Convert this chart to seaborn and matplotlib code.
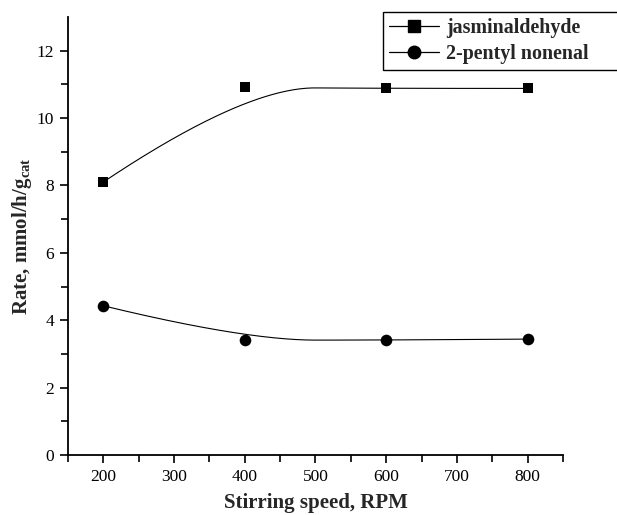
import numpy as np
import pandas as pd
import matplotlib
matplotlib.use("Agg")
import matplotlib.pyplot as plt
from matplotlib.lines import Line2D
import seaborn as sns

speed = [200, 400, 600, 800]
jasminaldehyde = [8.10, 10.91, 10.88, 10.88]
pentyl_nonenal = [4.43, 3.41, 3.41, 3.44]
series_names = ["jasminaldehyde", "2-pentyl nonenal"]
x_ticks = [200, 300, 400, 500, 600, 700, 800]
y_ticks = [0, 2, 4, 6, 8, 10, 12]

sns.set_theme(style="ticks")
plt.rcParams['font.family'] = ['Liberation Serif', 'DejaVu Serif']
plt.rcParams['mathtext.fontset'] = 'custom'
plt.rcParams['mathtext.rm'] = 'Liberation Serif'
plt.rcParams['mathtext.bf'] = 'Liberation Serif:bold'


def bspline2(xs, ys, n=200):
    # clamped quadratic B-spline using the data points as control points
    P = np.column_stack([xs, ys]).astype(float)
    k = 2
    m = len(P)
    inner = np.linspace(0, 1, m - k + 1)
    knots = np.concatenate([[0] * k, inner, [1] * k])

    def basis(i, p, t):
        if p == 0:
            if knots[i] <= t < knots[i + 1] or (t == 1 and knots[i + 1] == 1 and knots[i] < 1):
                return 1.0
            return 0.0
        a = 0.0
        d1 = knots[i + p] - knots[i]
        if d1 > 0:
            a += (t - knots[i]) / d1 * basis(i, p - 1, t)
        d2 = knots[i + p + 1] - knots[i + 1]
        if d2 > 0:
            a += (knots[i + p + 1] - t) / d2 * basis(i + 1, p - 1, t)
        return a

    ts = np.linspace(0, 1, n)
    out = []
    for t in ts:
        w = np.array([basis(i, k, t) for i in range(m)])
        out.append(w @ P)
    out = np.array(out)
    return out[:, 0], out[:, 1]


fig = plt.figure(figsize=(6.17, 5.15), dpi=100)
ax = fig.add_axes([0.110, 0.1165, 0.8025, 0.8505])

markers = ["s", "o"]
for name, vals, mk in zip(series_names, [jasminaldehyde, pentyl_nonenal], markers):
    cx, cy = bspline2(speed, vals)
    curve = pd.DataFrame({"x": cx, "y": cy})
    sns.lineplot(data=curve, x="x", y="y", ax=ax, color="black", lw=0.8,
                 sort=False, estimator=None)
    pts = pd.DataFrame({"x": speed, "y": vals})
    sns.scatterplot(data=pts, x="x", y="y", ax=ax, marker=mk, color="black",
                    s=55 if mk == "s" else 70, edgecolor="black", linewidth=0, zorder=3)

ax.set_xlim(150, 850)
ax.set_ylim(0, 13)
ax.set_xticks(x_ticks)
ax.set_yticks(y_ticks)
ax.set_xticks(np.arange(150, 851, 100), minor=True)
ax.set_yticks(np.arange(1, 13, 2), minor=True)
ax.tick_params(axis="both", which="major", direction="out", length=6, width=1.2,
               labelsize=12.5, color="black", labelcolor="black", pad=4)
ax.tick_params(axis="both", which="minor", direction="out", length=5, width=1.2, color="black")
sns.despine(ax=ax)
for s in ["left", "bottom"]:
    ax.spines[s].set_linewidth(1.3)
    ax.spines[s].set_color("black")

ax.set_xlabel("Stirring speed, RPM", fontsize=15, fontweight="bold", labelpad=6)
ax.set_ylabel(r"Rate, mmol/h/g$_{\mathbf{cat}}$", fontsize=15, fontweight="bold", labelpad=2)

handles = [Line2D([0], [0], color="black", lw=0.9, marker=m, markersize=9 if m == "o" else 8)
           for m in markers]
leg = fig.legend(handles, series_names, loc="upper left",
                 bbox_to_anchor=(383 / 617, 1 - 70 / 515, 240 / 617, 58 / 515),
                 mode="expand",
                 frameon=True, fancybox=False, edgecolor="black", framealpha=1,
                 prop={"family": "Liberation Serif", "weight": "bold", "size": 14.4},
                 handlelength=2.5, handletextpad=0.35, borderpad=0.3, labelspacing=0.3,
                 borderaxespad=0)
leg.get_frame().set_linewidth(1.0)

fig.savefig("out.png", dpi=100)
